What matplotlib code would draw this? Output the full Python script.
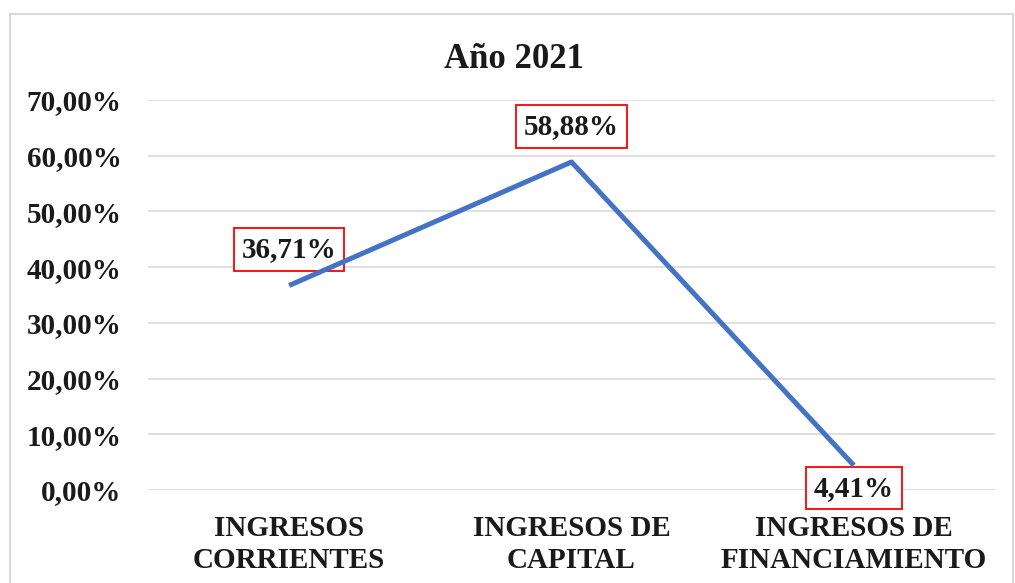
import matplotlib
matplotlib.use("Agg")
import matplotlib.pyplot as plt
from matplotlib.patches import Rectangle

categories = ["INGRESOS\nCORRIENTES", "INGRESOS DE\nCAPITAL", "INGRESOS DE\nFINANCIAMIENTO"]
values = [36.71, 58.88, 4.41]
labels = ["36,71%", "58,88%", "4,41%"]
yticks = [0, 10, 20, 30, 40, 50, 60, 70]
ytick_labels = ["0,00%", "10,00%", "20,00%", "30,00%", "40,00%", "50,00%", "60,00%", "70,00%"]
title = "Año 2021"

plt.rcParams['font.family'] = ['Liberation Serif', 'DejaVu Serif']
plt.rcParams['font.weight'] = 'bold'

W, H = 1015, 583
fig = plt.figure(figsize=(W / 100, H / 100), dpi=100)
ax = fig.add_axes([148 / W, 1 - 490 / H, (995 - 148) / W, (490 - 100) / H])

# chart border
fig.patches.append(Rectangle((10 / W, -0.05), (1013 - 10) / W, 1 - 14 / H + 0.05,
                             transform=fig.transFigure, fill=False,
                             edgecolor='#d9d9d9', linewidth=1.5))

x = list(range(len(categories)))
ax.plot(x, values, color='#4472C4', linewidth=3.6, solid_capstyle='butt', zorder=4)

ax.set_xlim(-0.5, len(categories) - 0.5)
ax.set_ylim(0, 70)
ax.set_yticks(yticks)
ax.set_yticklabels(ytick_labels, fontsize=21, fontweight='bold', color='#1a1a1a')
ax.set_xticks(x)
ax.set_xticklabels(categories, fontsize=21, fontweight='bold', color='#1a1a1a', linespacing=1.22)
ax.tick_params(axis='y', length=0, pad=19)
ax.tick_params(axis='x', length=0, pad=18)
ax.grid(axis='y', color='#d9d9d9', linewidth=1.2, zorder=0)
ax.set_axisbelow(True)
for s in ax.spines.values():
    s.set_visible(False)

offsets = [26, 25.5, -16.3]
for xi, v, lab, off in zip(x, values, labels, offsets):
    ax.annotate(lab, (xi, v), xytext=(0, off), textcoords='offset points',
                ha='center', va='center', fontsize=21, fontweight='bold', color='#1a1a1a',
                zorder=3,
                bbox=dict(boxstyle='square,pad=0.27', facecolor='white', edgecolor='#ff0000', linewidth=1.3))

fig.text(514 / W, 1 - 68 / H, title, ha='center', va='baseline', fontsize=25, fontweight='bold', color='#1a1a1a')

fig.savefig("out.png", dpi=100)
